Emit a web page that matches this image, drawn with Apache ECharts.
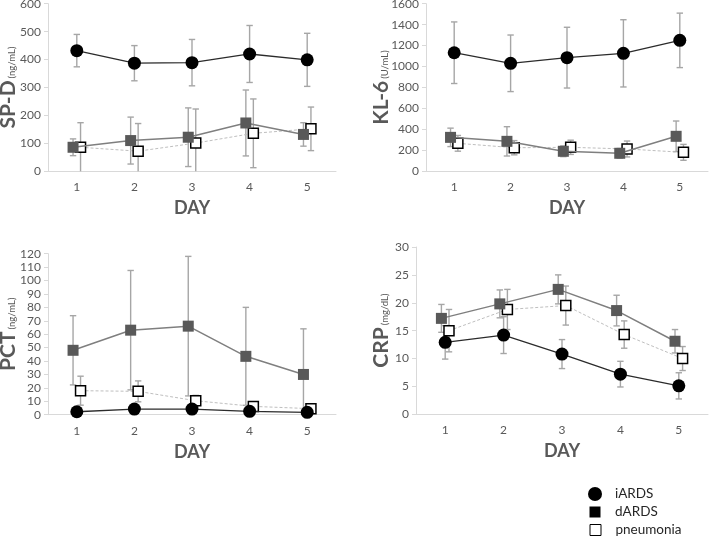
<!DOCTYPE html>
<html>
<head>
<meta charset="utf-8">
<script src="https://cdn.jsdelivr.net/npm/echarts@6/dist/echarts.min.js"></script>
<style>
html,body{margin:0;padding:0;background:#fff;}
#chart{width:709px;height:540px;}
</style>
</head>
<body>
<div id="chart"></div>
<script>
// ---- data ----
const days = ['1', '2', '3', '4', '5'];
const groups = ['iARDS', 'dARDS', 'pneumonia'];

const spdMean = { iARDS: [432, 387, 389, 420, 399], dARDS: [86, 110, 122, 173, 132], pneumonia: [86, 72, 101, 136, 152] };
const spdSD   = { iARDS: [58, 63, 83, 102, 95],     dARDS: [30, 84, 105, 118, 42],   pneumonia: [88, 99, 122, 123, 78] };

const kl6Mean = { iARDS: [1132, 1031, 1085, 1126, 1250], dARDS: [324, 286, 191, 172, 334], pneumonia: [267, 225, 229, 213, 181] };
const kl6SD   = { iARDS: [294, 270, 290, 321, 260],      dARDS: [88, 140, 51, 46, 146],    pneumonia: [75, 68, 68, 76, 76] };

const pctMean = { iARDS: [2.2, 4.2, 4.2, 2.5, 1.8], dARDS: [48, 63, 66, 43.5, 30],   pneumonia: [17.9, 17.4, 10.4, 6.2, 4.5] };
const pctSD   = { iARDS: [1.5, 2, 2, 1.5, 1],       dARDS: [25.8, 44.5, 52, 36.5, 34], pneumonia: [10.8, 7.8, 4.0, 2.0, 1.5] };

const crpMean = { iARDS: [12.9, 14.2, 10.8, 7.2, 5.1], dARDS: [17.2, 19.8, 22.4, 18.6, 13.1], pneumonia: [15.0, 18.8, 19.5, 14.3, 10.0] };
const crpSD   = { iARDS: [3.0, 3.3, 2.6, 2.3, 2.35],   dARDS: [2.5, 2.5, 2.6, 2.75, 2.1],     pneumonia: [3.8, 3.6, 3.5, 2.45, 2.15] };

const panels = [
  { title: 'SP-D', unit: '(ng/mL)', mean: spdMean, sd: spdSD, max: 600, interval: 100 },
  { title: 'KL-6', unit: '(U/mL)',  mean: kl6Mean, sd: kl6SD, max: 1600, interval: 200 },
  { title: 'PCT',  unit: '(ng/mL)', mean: pctMean, sd: pctSD, max: 120, interval: 10 },
  { title: 'CRP',  unit: '(mg/dL)', mean: crpMean, sd: crpSD, max: 30, interval: 5 }
];

// ---- layout / style ----
const FONT = 'Lato, "Open Sans", sans-serif';
const grids = [
  { left: 48,  top: 3.7,   width: 288, height: 167.6, nameGap: 29 },
  { left: 426, top: 3.7,   width: 282, height: 167.6, nameGap: 34 },
  { left: 48,  top: 253.7, width: 288, height: 161,   nameGap: 29 },
  { left: 416, top: 247,   width: 292, height: 167.3, nameGap: 24 }
];
const styles = {
  iARDS:     { dx: 0,      symbol: 'circle', size: 13, fill: '#000000', border: '#000000', bw: 0,   line: '#2b2b2b', lw: 1.3, type: 'solid' },
  dARDS:     { dx: -0.065, symbol: 'rect',   size: 11, fill: '#595959', border: '#595959', bw: 0,   line: '#7f7f7f', lw: 1.5, type: 'solid' },
  pneumonia: { dx: 0.065,  symbol: 'rect',   size: 10, fill: '#ffffff', border: '#000000', bw: 1.5, line: '#bfbfbf', lw: 1,   type: [3, 2] }
};
const order = ['pneumonia', 'dARDS', 'iARDS'];

function errRender(params, api) {
  const x = api.value(0), y = api.value(1), sd = api.value(2);
  const lo = Math.max(y - sd, 0), hi = y + sd;
  const pHi = api.coord([x, hi]);
  const pLo = api.coord([x, lo]);
  const cw = 3.2;
  const st = { stroke: '#a6a6a6', lineWidth: 1.4 };
  const children = [
    { type: 'line', shape: { x1: pHi[0], y1: pHi[1], x2: pLo[0], y2: pLo[1] }, style: st },
    { type: 'line', shape: { x1: pHi[0] - cw, y1: pHi[1], x2: pHi[0] + cw, y2: pHi[1] }, style: st }
  ];
  if (y - sd >= 0) {
    children.push({ type: 'line', shape: { x1: pLo[0] - cw, y1: pLo[1], x2: pLo[0] + cw, y2: pLo[1] }, style: st });
  }
  return { type: 'group', children };
}

const option = {
  animation: false,
  backgroundColor: '#ffffff',
  textStyle: { fontFamily: FONT },
  grid: [], xAxis: [], yAxis: [], series: [],
  legend: []
};

panels.forEach((p, i) => {
  const g = grids[i];
  option.grid.push({ left: g.left, top: g.top, width: g.width, height: g.height, outerBoundsMode: 'none', containLabel: false });
  option.xAxis.push({
    type: 'category', gridIndex: i, data: days, boundaryGap: true,
    axisLine: { lineStyle: { color: '#d9d9d9', width: 1 } },
    axisTick: { alignWithLabel: true, length: 4, lineStyle: { color: '#d9d9d9' } },
    axisLabel: { color: '#595959', fontSize: 12, margin: 10, fontFamily: FONT },
    splitLine: { show: false },
    name: 'DAY', nameLocation: 'middle', nameGap: 28, nameMoveOverlap: false,
    nameTextStyle: { color: '#595959', fontSize: 18, fontWeight: 'bold', fontFamily: FONT }
  });
  option.xAxis.push({ type: 'value', gridIndex: i, min: 0.5, max: 5.5, show: false });
  option.yAxis.push({
    type: 'value', gridIndex: i, min: 0, max: p.max, interval: p.interval,
    axisLine: { show: true, lineStyle: { color: '#d9d9d9', width: 1 } },
    axisTick: { show: true, length: 4, lineStyle: { color: '#d9d9d9' } },
    axisLabel: { color: '#595959', fontSize: 12, margin: 7, fontFamily: FONT, formatter: v => String(v) },
    splitLine: { show: false },
    name: '{a|' + p.title + '}{b|' + p.unit + '}',
    nameLocation: 'middle', nameRotate: 90, nameGap: g.nameGap, nameMoveOverlap: false,
    nameTextStyle: {
      rich: {
        a: { fontSize: 21, fontWeight: 'bold', color: '#595959', fontFamily: FONT, verticalAlign: 'bottom' },
        b: { fontSize: 9.5, color: '#595959', fontFamily: FONT, verticalAlign: 'bottom', padding: [0, 0, 2, 2] }
      }
    }
  });
  const xIdx = i * 2 + 1;
  order.forEach(name => {
    const s = styles[name];
    option.series.push({
      type: 'custom', name: name, xAxisIndex: xIdx, yAxisIndex: i, z: 1,
      renderItem: errRender, encode: { x: 0, y: 1 },
      data: days.map((d, k) => [Number(d) + s.dx, p.mean[name][k], p.sd[name][k]]),
      silent: true
    });
  });
  order.forEach((name, oi) => {
    const s = styles[name];
    option.series.push({
      type: 'line', name: name, xAxisIndex: xIdx, yAxisIndex: i, z: 3 + oi,
      data: days.map((d, k) => [Number(d) + s.dx, p.mean[name][k]]),
      symbol: s.symbol, symbolSize: s.size, showAllSymbol: true,
      itemStyle: { color: s.fill, borderColor: s.border, borderWidth: s.bw, opacity: 1 },
      lineStyle: { color: s.line, width: s.lw, type: s.type },
      emphasis: { disabled: true }
    });
  });
});

const legendDefs = [
  { name: 'iARDS', icon: 'circle', w: 14, h: 14, cy: 494, style: { color: '#000' } },
  { name: 'dARDS', icon: 'rect', w: 11, h: 11, cy: 512, style: { color: '#000' } },
  { name: 'pneumonia', icon: 'rect', w: 11, h: 11, cy: 530, style: { color: '#fff', borderColor: '#000', borderWidth: 1 } }
];
legendDefs.forEach(l => {
  option.legend.push({
    orient: 'vertical', left: 595 - l.w / 2, top: l.cy - 8, padding: 0,
    itemWidth: l.w, itemHeight: l.h, selectedMode: false,
    data: [{ name: l.name, icon: l.icon, itemStyle: l.style }],
    textStyle: { color: '#262626', fontSize: 13.5, fontFamily: FONT, padding: [0, 0, 0, 15 - l.w / 2], lineHeight: 16 }
  });
});

const chart = echarts.init(document.getElementById('chart'), null, { renderer: 'canvas' });
chart.setOption(option);
</script>
</body>
</html>
